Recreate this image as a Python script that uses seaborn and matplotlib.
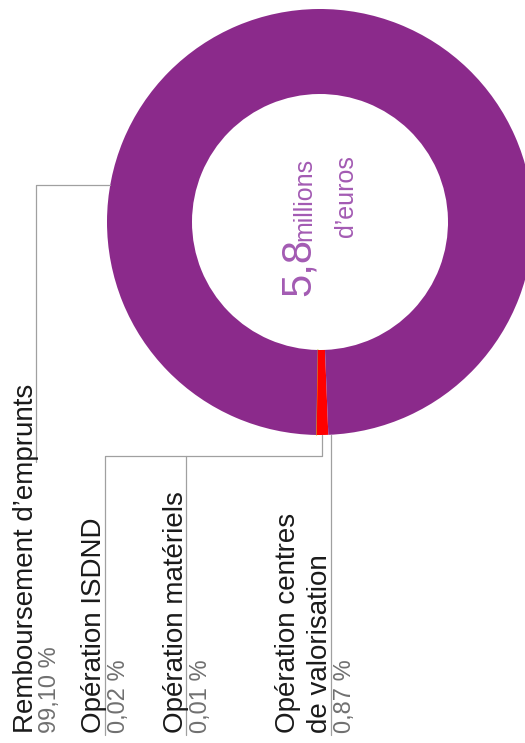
import numpy as np
import seaborn as sns
import matplotlib.pyplot as plt

# Data
labels = ["Opération ISDND", "Opération matériels",
          "Opération centres\nde valorisation", "Remboursement d’emprunts"]
shares = [0.02, 0.01, 0.87, 99.10]
share_labels = ["0,02 %", "0,01 %", "0,87 %", "99,10 %"]
colors = ["#8dc63f", "#f2c500", "#ff0000", "#8b2a8b"]
total_value = "5,8"
total_unit = ["millions", "d’euros"]

sns.set_style("white")
plt.rcParams['font.family'] = ['Liberation Sans', 'DejaVu Sans']

W, H = 525, 743
fig = plt.figure(figsize=(W / 100, H / 100), dpi=100)
ax = fig.add_axes([0, 0, 1, 1])

# ring geometry, in pixels (y measured from the top)
cx, cy, r_out, r_in = 320, 222, 213, 128


def P(x, y):
    return x, H - y


wedges, _ = ax.pie(shares, colors=colors, startangle=-91, counterclock=True,
                   radius=r_out, center=P(cx, cy),
                   wedgeprops=dict(width=r_out - r_in, linewidth=0))
for w in wedges[:2]:
    w.set_edgecolor(w.get_facecolor())
    w.set_linewidth(0.7)

ax.set_xlim(0, W)
ax.set_ylim(0, H)
ax.axis('off')


def ring_bottom(x):
    return cy + np.sqrt(r_out ** 2 - (x - cx) ** 2)


def ring_left(y):
    return cx - np.sqrt(r_out ** 2 - (y - cy) ** 2)


line_kw = dict(color="#a0a0a0", lw=0.9)
y_end = 735

# leader lines
ax.plot(*zip(P(ring_left(185), 185), P(36, 185), P(36, 462)), **line_kw)
ax.plot(*zip(P(322, ring_bottom(322)), P(322, 456), P(105, 456), P(105, y_end)), **line_kw)
ax.plot(*zip(P(186, 456), P(186, y_end)), **line_kw)
ax.plot(*zip(P(331, ring_bottom(331)), P(331, y_end)), **line_kw)

# labels: baseline x of each text line, x of the percent text
name_x = [[101], [183], [295, 327], [33]]
pct_x = [108, 190, 334, 39]
txt_kw = dict(rotation=90, rotation_mode='anchor', ha='left')
for lab, pct, nx, pxx in zip(labels, share_labels, name_x, pct_x):
    for line, x in zip(lab.split("\n"), nx):
        ax.text(*P(x, 733), line, fontsize=20, color="#1a1a1a",
                va='baseline', **txt_kw)
    ax.text(*P(pxx, 733), pct, fontsize=17, color="#707070", va='top', **txt_kw)

# centre text
centre_col = "#a35bb3"
ax.text(*P(310, 296), total_value, fontsize=30, color=centre_col,
        va='baseline', **txt_kw)
ax.text(*P(311, 241), total_unit[0], fontsize=18, color=centre_col,
        va='baseline', **txt_kw)
ax.text(*P(353, 155), total_unit[1], fontsize=18, color=centre_col,
        va='baseline', rotation=90, rotation_mode='anchor', ha='right')

fig.savefig("out.png", dpi=100)
